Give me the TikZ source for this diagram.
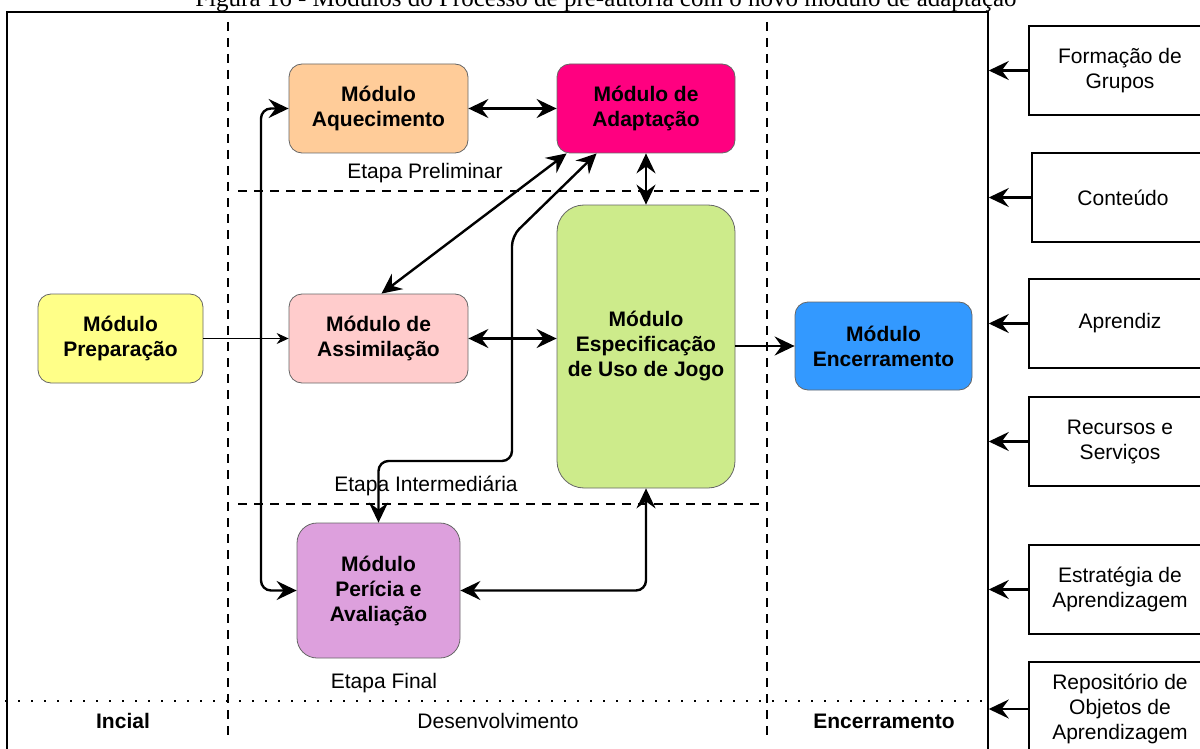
\documentclass[tikz,border=0pt]{standalone}
\usepackage{fontspec}
\setmainfont{Liberation Sans}
\newfontfamily\capfont{Liberation Serif}
\usetikzlibrary{arrows.meta,calc}
\definecolor{cprep}{HTML}{FFFF88}
\definecolor{caq}{HTML}{FFCC99}
\definecolor{cad}{HTML}{FF0080}
\definecolor{cas}{HTML}{FFCCCC}
\definecolor{ces}{HTML}{CDEB8B}
\definecolor{cen}{HTML}{3399FF}
\definecolor{cpe}{HTML}{DDA0DD}
\begin{document}
\begin{tikzpicture}[x=1pt,y=-1pt,
  mod/.style={draw=black!60, line width=0.8pt, rounded corners=13pt, font=\bfseries\fontsize{21}{25}\selectfont, align=center, inner sep=0pt},
  side/.style={draw=black, line width=1.3pt, font=\fontsize{21}{25}\selectfont, align=center, inner sep=0pt, minimum width=182pt, minimum height=89pt},
  lab/.style={font=\fontsize{21}{25}\selectfont, inner sep=0pt},
  blab/.style={font=\bfseries\fontsize{21}{25}\selectfont, inner sep=0pt},
  conn/.style={line width=2.4pt, rounded corners=10pt},
  arr/.style={-{Stealth[length=20pt,width=19pt,inset=7pt]}},
  darr/.style={{Stealth[length=20pt,width=19pt,inset=7pt]}-{Stealth[length=20pt,width=19pt,inset=7pt]}},
  sarr/.style={-{Stealth[length=12pt,width=11pt,inset=4pt]}},
  dashl/.style={line width=2.2pt, dash pattern=on 9pt off 7pt},
  dotl/.style={line width=2.2pt, dash pattern=on 2pt off 11pt}
]
\useasboundingbox (0,0) rectangle (1200,749);

% caption
\node[anchor=base, inner sep=0pt, font=\capfont\fontsize{25}{30}\selectfont] (cap) at (606,7) {Figura 16 - Módulos do Processo de pré-autoria com o novo módulo de adaptação};

% frame
\node[draw, line width=1.5pt, minimum width=981pt, minimum height=748pt, inner sep=0pt] (frame) at (497.5,386) {};

% separators
\draw[dashl] (228,22) -- (228,735);
\draw[dashl] (767,22) -- (767,735);
\draw[dashl] (238,191) -- (767,191);
\draw[dashl] (238,504) -- (767,504);
\draw[dotl] (5,701) -- (988,701);

% modules
\node[mod, fill=cprep, minimum width=165pt, minimum height=89pt] (prep) at (120.5,338.5) {Módulo\\Preparação};
\node[mod, fill=caq, minimum width=179pt, minimum height=89pt] (aq) at (378.5,108.5) {Módulo\\Aquecimento};
\node[mod, fill=cad, minimum width=178pt, minimum height=89pt] (ad) at (646,108.5) {Módulo de\\Adaptação};
\node[mod, fill=cas, minimum width=179pt, minimum height=89pt] (as) at (378.5,338.5) {Módulo de\\Assimilação};
\node[mod, fill=ces, rounded corners=27pt, minimum width=178pt, minimum height=283pt] (es) at (646,346.5) {Módulo\\Especificação\\de Uso de Jogo};
\node[mod, fill=cen, minimum width=177pt, minimum height=88pt] (en) at (883.5,346) {Módulo\\Encerramento};
\node[mod, fill=cpe, rounded corners=20pt, minimum width=163pt, minimum height=135pt] (pe) at (378.5,590.5) {Módulo\\Perícia e\\Avaliação};

% stage labels
\node[lab] (l1) at (425,173) {Etapa Preliminar};
\node[lab] (l2) at (426,486) {Etapa Intermediária};
\node[lab] (l3) at (384,683) {Etapa Final};
\node[blab] (b1) at (123,721) {Incial};
\node[lab] (b2) at (498,721) {Desenvolvimento};
\node[blab] (b3) at (884,721) {Encerramento};

% side boxes
\node[side] (s1) at (1120,70.5) {Formação de\\Grupos};
\node[side] (s2) at (1123,197.5) {Conteúdo};
\node[side] (s3) at (1120,323.5) {Aprendiz};
\node[side] (s4) at (1120,441.5) {Recursos e\\Serviços};
\node[side] (s5) at (1120,589.5) {Estratégia de\\Aprendizagem};
\node[side, minimum height=94pt] (s6) at (1120,709) {Repositório de\\Objetos de\\Aprendizagem};

\foreach \s in {s1,s2,s3,s4,s5,s6}
  \draw[line width=2.4pt, arr] (\s.west) -- (\s.west -| frame.east);

% connectors
\draw[conn, darr] (aq.east) -- (ad.west);
\draw[conn, darr] (ad.south) -- (es.north);
\draw[conn, darr] ([xshift=10pt]ad.south west) -- ([xshift=3pt]as.north);
\coordinate (k1) at (512,236);
\coordinate (k2) at (512,461);
\draw[conn, darr] ([xshift=40pt]ad.south west) -- (k1) -- (k2) -- (pe.north |- k2) -- (pe.north);
\coordinate (k3) at (261,108.5);
\coordinate (k4) at (261,590.5);
\draw[conn, darr] (aq.west) -- (k3) -- (k4) -- (pe.west);
\draw[line width=1pt, sarr] (prep.east) -- (as.west);
\draw[conn, darr] (as.east) -- (as.east -| es.west);
\draw[conn, arr] (es.east |- en.west) -- (en.west);
\draw[conn, darr] (pe.east) -| (es.south);
\end{tikzpicture}
\end{document}
